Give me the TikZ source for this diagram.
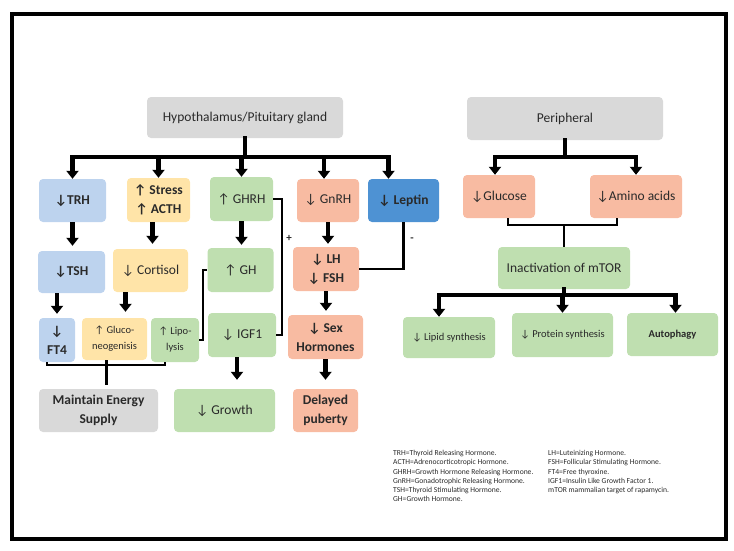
\documentclass[tikz,border=0pt]{standalone}
\usepackage{fontspec}
\setmainfont{Carlito}
\usetikzlibrary{arrows.meta}

\definecolor{boxgrey}{HTML}{D9D9D9}
\definecolor{boxblue}{HTML}{BDD3EE}
\definecolor{boxyellow}{HTML}{FFE4A8}
\definecolor{boxgreen}{HTML}{BFDFB0}
\definecolor{boxred}{HTML}{F8BBA2}
\definecolor{boxleptin}{HTML}{4E92D3}
\definecolor{txt}{HTML}{2A2A2A}

\begin{document}
\begin{tikzpicture}[
    x=1pt, y=-1pt,
    box/.style={rounded corners=4pt, align=center, inner sep=1pt, text=txt,
        font=\fontsize{13.5}{19}\selectfont}, % caixa base
    small/.style={font=\fontsize{10.5}{16}\selectfont}, % texto pequeno
    greybox/.style={box, fill=boxgrey},
    bluebox/.style={box, fill=boxblue},
    yellowbox/.style={box, fill=boxyellow},
    greenbox/.style={box, fill=boxgreen},
    redbox/.style={box, fill=boxred},
    leptinbox/.style={box, fill=boxleptin},
    bus/.style={line width=4.5pt, line cap=rect}, % barra grossa
    arr/.style={line width=4.5pt, -{Triangle[width=12pt,length=8pt]}}, % seta grossa
    link/.style={line width=2.5pt},
    sign/.style={font=\bfseries\fontsize{11}{11}\selectfont, text=txt},
    legend/.style={align=left, inner sep=0pt, text=txt, font=\fontsize{7.6}{9.3}\selectfont}
]
\useasboundingbox (0,0) rectangle (734,550);
\draw[line width=4pt] (12,14) rectangle (726,539);

% lado esquerdo
\node[greybox, minimum width=196pt, minimum height=41pt] (hyp) at (245,117.5) {Hypothalamus/Pituitary gland};
\node[bluebox, minimum width=67pt, minimum height=43pt, font=\bfseries\fontsize{13.5}{19}\selectfont] (trh) at (72.5,200.5) {↓TRH};
\node[yellowbox, minimum width=63pt, minimum height=44pt, font=\bfseries\fontsize{13.5}{19}\selectfont] (acth) at (158.5,200) {↑ Stress\\↑ ACTH};
\node[greenbox, minimum width=63pt, minimum height=44pt] (ghrh) at (241.5,199) {↑ GHRH};
\node[redbox, minimum width=62pt, minimum height=43pt] (gnrh) at (328,200.5) {↓ GnRH};
\node[leptinbox, minimum width=71pt, minimum height=43pt, font=\bfseries\fontsize{13.5}{19}\selectfont] (lep) at (403.5,200.5) {↓ Leptin};

\node[bluebox, minimum width=67pt, minimum height=42pt, font=\bfseries\fontsize{13.5}{19}\selectfont] (tsh) at (71.5,272) {↓TSH};
\node[yellowbox, minimum width=75pt, minimum height=43pt] (cort) at (150.5,270.5) {↓ Cortisol};
\node[greenbox, minimum width=66pt, minimum height=44pt] (gh) at (240.5,270) {↑ GH};
\node[redbox, minimum width=66pt, minimum height=44pt, font=\bfseries\fontsize{13.5}{19}\selectfont] (lhfsh) at (326,269) {↓ LH\\↓ FSH};

\node[bluebox, minimum width=36pt, minimum height=44pt, font=\bfseries\fontsize{13.5}{19}\selectfont] (ft4) at (57,340) {↓\\FT4};
\node[yellowbox, small, minimum width=65pt, minimum height=42pt] (gluco) at (114.5,339) {↑ Gluco-\\neogenisis};
\node[greenbox, small, minimum width=48pt, minimum height=44pt] (lipo) at (175,340) {↑ Lipo-\\lysis};
\node[greenbox, minimum width=68pt, minimum height=44pt] (igf1) at (242,335) {↓ IGF1};
\node[redbox, minimum width=75pt, minimum height=44pt, font=\bfseries\fontsize{13.5}{19}\selectfont] (sex) at (325.5,337) {↓ Sex\\Hormones};

\node[greybox, minimum width=119pt, minimum height=43pt, font=\bfseries\fontsize{13.5}{19}\selectfont] (energy) at (98.5,410.5) {Maintain Energy\\Supply};
\node[greenbox, minimum width=101pt, minimum height=43pt] (growth) at (224.5,410.5) {↓ Growth};
\node[redbox, minimum width=65pt, minimum height=43pt, font=\bfseries\fontsize{13.5}{19}\selectfont] (puberty) at (325.5,410.5) {Delayed\\puberty};

% lado direito
\node[greybox, minimum width=196pt, minimum height=43pt] (per) at (565,118.5) {Peripheral};
\node[redbox, minimum width=72pt, minimum height=43pt] (glu) at (499,196.5) {↓Glucose};
\node[redbox, minimum width=92pt, minimum height=43pt] (amino) at (636,196.5) {↓Amino acids};
\node[greenbox, minimum width=132pt, minimum height=42pt] (mtor) at (564,268) {Inactivation of mTOR};
\node[greenbox, small, minimum width=92pt, minimum height=41pt] (lipid) at (449,337.5) {↓ Lipid synthesis};
\node[greenbox, small, minimum width=101pt, minimum height=44pt] (protein) at (562.5,335) {↓ Protein synthesis};
\node[greenbox, small, minimum width=91pt, minimum height=43pt, font=\bfseries\fontsize{10.5}{16}\selectfont] (autoph) at (672.5,334.5) {Autophagy};

% barras e setas
\draw[bus] (hyp.south) -- ++(0,19) coordinate (hbus);
\draw[bus] (trh.north |- hbus) -- ([xshift=-15pt]lep.north |- hbus);
\draw[arr] (trh.north |- hbus) -- (trh.north);
\draw[arr] (acth.north |- hbus) -- (acth.north);
\draw[arr] (ghrh.north |- hbus) -- (ghrh.north);
\draw[arr] ([xshift=-4pt]gnrh.north |- hbus) -- ([xshift=-4pt]gnrh.north);
\draw[arr] ([xshift=-15pt]lep.north |- hbus) -- ([xshift=-15pt]lep.north);

\draw[arr, shorten >=5pt] (trh.south) -- (trh.south |- tsh.north);
\draw[arr, shorten >=5pt] ([xshift=-6pt]acth.south) -- ([xshift=-6pt]acth.south |- cort.north);
\draw[arr, shorten >=3pt] (ghrh.south) -- (ghrh.south |- gh.north);
\draw[arr, shorten >=3pt] (gnrh.south) -- (gnrh.south |- lhfsh.north);

\draw[arr, shorten >=4pt] (tsh.south -| ft4) -- (ft4.north);
\draw[arr, shorten >=6pt] ([xshift=-25pt]cort.south) -- ([xshift=-25pt]cort.south |- gluco.north);
\draw[arr, shorten >=4pt] (lhfsh.south) -- (lhfsh.south |- sex.north);

\draw[arr, shorten >=9pt] ([xshift=-5pt]igf1.south) -- ([xshift=-5pt]igf1.south |- growth.north);
\draw[arr, shorten >=9pt] (sex.south) -- (sex.south |- puberty.north);

% ligacoes finas
\draw[link] (ghrh.east) -- ++(9,0) |- (igf1.east);
\node[sign] (plus) at (289,238) {+};
\draw[link] (lep.south) |- (lhfsh.east);
\node[sign] (minus) at (412,240) {-};
\draw[link] (lipo.east) -- ++(4,0) |- (gh.west);
\draw[link] ([xshift=-10pt]ft4.south) -- ++(0,3) coordinate (ebrk) -| ([xshift=-10pt]lipo.south);
\draw[link, shorten >=4pt] ([xshift=-8pt]gluco.south) -- ([xshift=-8pt]gluco.south |- energy.north);

\draw[bus] (per.south) -- ++(0,17) coordinate (pbus);
\draw[bus] ([xshift=-4pt]glu.north |- pbus) -- (amino.north |- pbus);
\draw[arr] ([xshift=-4pt]glu.north |- pbus) -- ([xshift=-4pt]glu.north);
\draw[arr] (amino.north |- pbus) -- (amino.north);
\draw[link, line width=2pt] ([xshift=9pt]glu.south) -- ++(0,7) coordinate (gbrk) -| ([xshift=-19pt]amino.south);
\draw[link, line width=2pt] (mtor.north |- gbrk) -- (mtor.north);

\draw[bus] (mtor.south) -- ++(0,6) coordinate (mbus);
\draw[bus] ([xshift=-10pt]lipid.north |- mbus) -- ([xshift=3pt]autoph.north |- mbus);
\draw[arr] ([xshift=-10pt]lipid.north |- mbus) -- ([xshift=-10pt]lipid.north);
\draw[arr] (protein.north |- mbus) -- (protein.north);
\draw[arr] ([xshift=3pt]autoph.north |- mbus) -- ([xshift=3pt]autoph.north);

% legenda
\node[legend, anchor=north west] (legl) at (393,450) {TRH=Thyroid Releasing Hormone.\\ACTH=Adrenocorticotropic Hormone.\\GHRH=Growth Hormone Releasing Hormone.\\GnRH=Gonadotrophic Releasing Hormone.\\TSH=Thyroid Stimulating Hormone.\\GH=Growth Hormone.};
\node[legend, anchor=north west] (legr) at (548,450) {LH=Luteinizing Hormone.\\FSH=Follicular Stimulating Hormone.\\FT4=Free thyroxine.\\IGF1=Insulin Like Growth Factor 1.\\mTOR mammalian target of rapamycin.};
\end{tikzpicture}
\end{document}
